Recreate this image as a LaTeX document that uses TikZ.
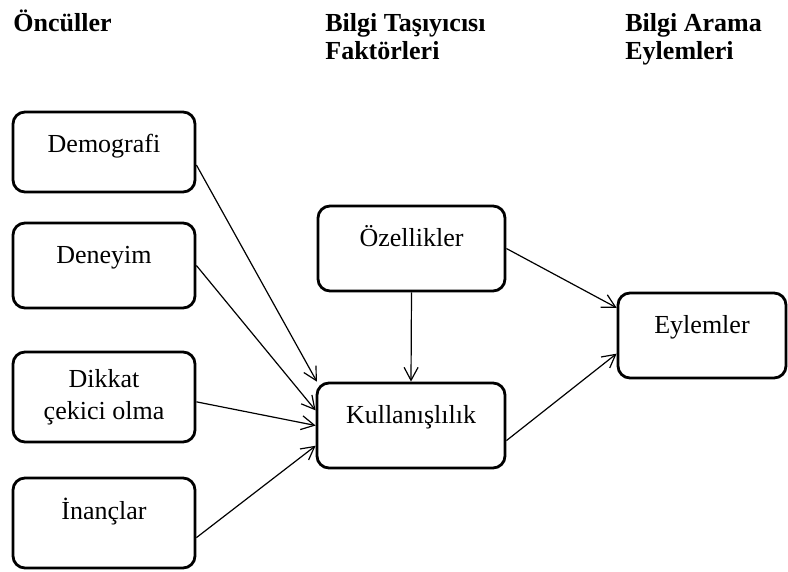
\documentclass[tikz,border=0pt]{standalone}
\usepackage{fontspec}
\setmainfont{Liberation Serif}
\usetikzlibrary{arrows.meta}

\tikzset{
	kutu/.style={draw, line width=1.4pt, rounded corners=6pt, inner sep=0pt, align=center, font=\fontsize{13}{16}\selectfont},
	ust/.style={anchor=base, text height=20.5pt, text depth=#1},
	ust/.default=22pt,
	baslik/.style={anchor=base west, align=left, inner sep=0pt, font=\fontsize{13}{14}\selectfont\bfseries},
	ok/.style={-{Straight Barb[length=6.5pt,width=7pt]}, line width=0.6pt}
}

\begin{document}
\begin{tikzpicture}[x=0.5pt, y=-0.5pt]
	\useasboundingbox (0,0) rectangle (788,572);
	% basliklar
	\node[baslik] (oncul) at (13,32) {Öncüller};
	\node[baslik] (tasiyici) at (325,60) {Bilgi Taşıyıcısı\\Faktörleri};
	\node[baslik] (arama) at (625,60) {Bilgi Arama\\Eylemleri};
	%%%%%
	\node[kutu, ust=19.5pt, minimum width=91pt] (demografi) at (104,153) {Demografi};
	\node[kutu, ust, minimum width=91pt] (deneyim) at (104,264) {Deneyim};
	\node[kutu, minimum width=91pt, minimum height=45pt] (dikkat) at (104,397) {Dikkat\\çekici olma};
	\node[kutu, ust=24.5pt, minimum width=91pt] (inanc) at (104,519) {İnançlar};
	\node[kutu, ust, minimum width=93.5pt] (ozellik) at (411.5,247) {Özellikler};
	\node[kutu, ust, minimum width=94pt] (kullanis) at (411,424) {Kullanışlılık};
	\node[kutu, ust, minimum width=84pt] (eylem) at (702,334) {Eylemler};
	%%%%%
	\draw[ok] (demografi.-8) -- (kullanis.155);
	\draw[ok] (deneyim.east) -- (kullanis.171);
	\draw[ok] (dikkat.-3) -- (kullanis.west);
	\draw[ok] (inanc.-9) -- (kullanis.192);
	\draw[ok] (ozellik.south) -- (kullanis.north);
	\draw[ok] (ozellik.east) -- (eylem.162);
	\draw[ok] (kullanis.-9) -- (eylem.192);
\end{tikzpicture}
\end{document}
